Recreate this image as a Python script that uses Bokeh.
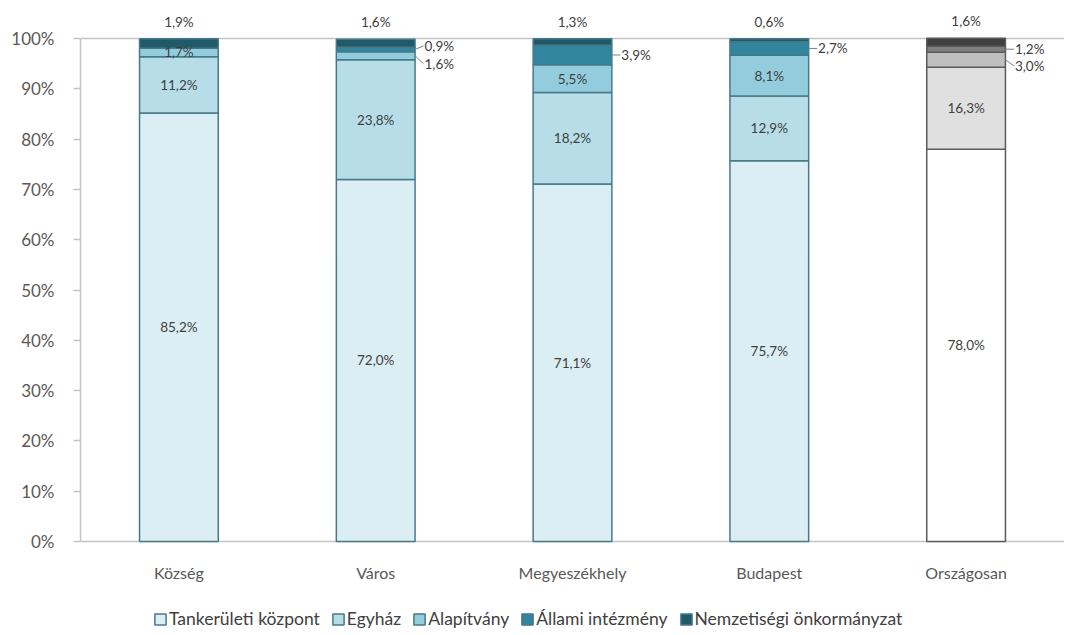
from bokeh.plotting import figure
from bokeh.models import (ColumnDataSource, FactorRange, Range1d, Legend, LegendItem,
                          FixedTicker, PrintfTickFormatter, LabelSet)
from bokeh.transform import dodge
from bokeh.core.properties import value
from bokeh.embed import file_html
from bokeh.resources import INLINE

# ---------------- data ----------------
categories = ["Község", "Város", "Megyeszékhely", "Budapest", "Országosan"]
series_names = ["Tankerületi központ", "Egyház", "Alapítvány",
                "Állami intézmény", "Nemzetiségi önkormányzat"]
tankeruleti = [85.2, 72.0, 71.1, 75.7, 78.0]
egyhaz = [11.2, 23.8, 18.2, 12.9, 16.3]
alapitvany = [1.7, 1.6, 5.5, 8.1, 3.0]
allami = [0.0, 0.9, 3.9, 2.7, 1.2]
nemzetisegi = [1.9, 1.6, 1.3, 0.6, 1.6]
y_ticks = [0, 10, 20, 30, 40, 50, 60, 70, 80, 90, 100]

series = [tankeruleti, egyhaz, alapitvany, allami, nemzetisegi]

# labels placed outside to the right: (series index, category index) -> nudge (data units)
outside = {(2, 1): -1.6, (3, 1): 0.7, (3, 2): 0.0, (3, 3): 0.0, (2, 4): -1.2, (3, 4): 0.0}

# ---------------- styles ----------------
blue_fill = ["#dbeef4", "#b7dee8", "#93cddd", "#31859c", "#215968"]
gray_fill = ["#ffffff", "#e0e0e0", "#bfbfbf", "#7f7f7f", "#404040"]
blue_line = "#477a88"
gray_line = "#5a5a5a"
FONT = "Lato"
TXT = "#404040"
AX = "#595959"

# frame covers the value area plus the band below it (category labels + legend)
p = figure(x_range=FactorRange(*categories), y_range=Range1d(-17.7, 104.8),
           width=1064, height=630, output_backend="svg", toolbar_location=None,
           min_border_left=80, min_border_top=14, min_border_bottom=0,
           min_border_right=0)
p.outline_line_color = None
p.background_fill_color = "white"

legend_items = []
bottoms = [0.0] * len(categories)
in_x, in_y, in_t = [], [], []
out_x, out_y, out_t, seg_y0, seg_y1 = [], [], [], [], []
top_x, top_y, top_t = [], [], []
n = len(categories)
for i, vals in enumerate(series):
    tops = [b + v for b, v in zip(bottoms, vals)]
    src = ColumnDataSource(dict(
        x=categories, bottom=list(bottoms), top=tops,
        fill=[blue_fill[i]] * (n - 1) + [gray_fill[i]],
        line=[blue_line] * (n - 1) + [gray_line],
    ))
    r = p.vbar(x="x", width=0.4, bottom="bottom", top="top", fill_color="fill",
               line_color="line", line_width=1.5, source=src)
    legend_items.append(LegendItem(label=series_names[i], renderers=[r], index=0))
    for j, v in enumerate(vals):
        if v <= 0:
            continue
        lab = f"{v:.1f}".replace(".", ",") + "%"
        mid = bottoms[j] + v / 2.0
        if i == len(series) - 1:
            top_x.append(categories[j]); top_y.append(tops[j]); top_t.append(lab)
        elif (i, j) in outside:
            out_x.append(categories[j]); out_y.append(mid + outside[(i, j)]); out_t.append(lab)
            seg_y0.append(mid); seg_y1.append(mid + outside[(i, j)])
        else:
            in_x.append(categories[j]); in_y.append(mid); in_t.append(lab)
    bottoms = tops

# leader lines
lsrc = ColumnDataSource(dict(x=out_x, y0=seg_y0, y1=seg_y1))
p.segment(x0=dodge("x", 0.2, range=p.x_range), x1=dodge("x", 0.243, range=p.x_range),
          y0="y0", y1="y1", line_color="#7f7f7f", line_width=1, source=lsrc)

common = dict(text_font=value(FONT), text_font_size="13.5px", text_color=TXT)
p.add_layout(LabelSet(x="x", y="y", text="t", text_align="center", text_baseline="middle",
                      source=ColumnDataSource(dict(x=in_x, y=in_y, t=in_t)), **common))
p.add_layout(LabelSet(x=dodge("x", 0.243, range=p.x_range), y="y", text="t",
                      text_align="left", text_baseline="middle", x_offset=1,
                      source=ColumnDataSource(dict(x=out_x, y=out_y, t=out_t)), **common))
p.add_layout(LabelSet(x="x", y="y", text="t", text_align="center", text_baseline="middle",
                      y_offset=17,
                      source=ColumnDataSource(dict(x=top_x, y=top_y, t=top_t)), **common))

# category labels under the baseline
p.add_layout(LabelSet(x="x", y="y", text="t", text_align="center", text_baseline="middle",
                      y_offset=-31, text_font=value(FONT), text_font_size="16px",
                      text_color=AX,
                      source=ColumnDataSource(dict(x=categories, y=[0] * n, t=categories))))

# grid lines: baseline (0) and top (100)
p.xgrid.visible = False
p.ygrid.ticker = FixedTicker(ticks=[0, 100])
p.ygrid.grid_line_color = "#c4c4c4"
p.ygrid.grid_line_width = 1.5

p.xaxis.visible = False

p.yaxis.ticker = FixedTicker(ticks=y_ticks)
p.yaxis.bounds = (0, 100)
p.yaxis.formatter = PrintfTickFormatter(format="%d%%")
p.yaxis.axis_line_color = "#c4c4c4"
p.yaxis.axis_line_width = 1.5
p.yaxis.major_tick_line_color = "#c4c4c4"
p.yaxis.major_tick_line_width = 1.5
p.yaxis.major_tick_out = 7
p.yaxis.major_tick_in = 0
p.yaxis.minor_tick_line_color = None
p.yaxis.major_label_standoff = 19
p.yaxis.major_label_text_font = FONT
p.yaxis.major_label_text_font_size = "17px"
p.yaxis.major_label_text_color = AX

legend = Legend(items=legend_items, orientation="horizontal", location=(73, 1),
                glyph_width=14, glyph_height=14, label_height=18, label_standoff=2,
                spacing=11, padding=0, margin=0, border_line_color=None,
                background_fill_alpha=0,
                label_text_font=FONT, label_text_font_size="17.5px", label_text_color=TXT)
p.add_layout(legend)

open("out.html", "w").write(file_html(p, INLINE))
